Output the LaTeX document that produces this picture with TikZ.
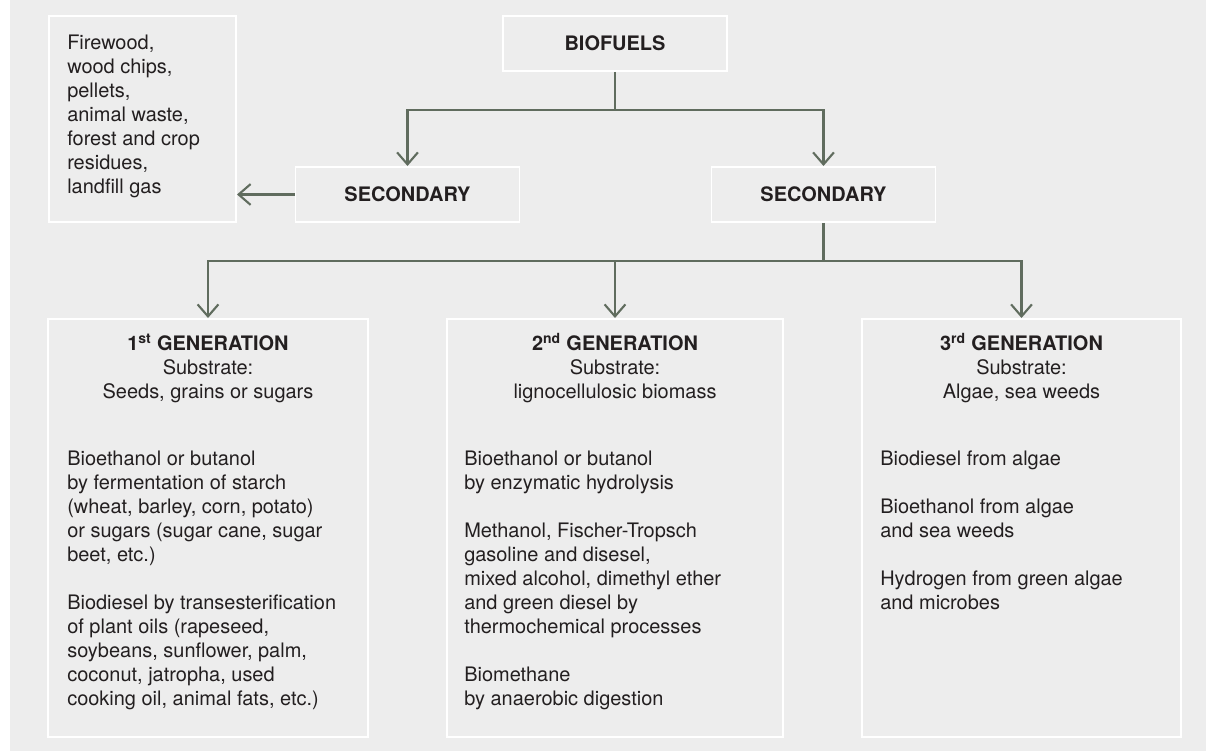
\documentclass[tikz,border=0pt]{standalone}
\usepackage{fontspec}
\setmainfont{TeX Gyre Heros}
\usepackage{xcolor}
\definecolor{bfgray}{RGB}{237,237,237}
\definecolor{bfline}{RGB}{96,108,94}
\definecolor{bftext}{RGB}{35,31,32}
\usetikzlibrary{arrows.meta,positioning}

\begin{document}
\begin{tikzpicture}[
  every node/.style={font=\fontsize{14.2}{17.07}\selectfont,text=bftext},
  levelbox/.style={draw=white,line width=1.4pt,minimum width=5.6cm,minimum height=1.375cm,
                   inner sep=0pt,font=\fontsize{14.2}{17.07}\selectfont\bfseries},
  genbox/.style={draw=white,line width=1.4pt,minimum height=10.45cm,inner sep=0pt},
  conn/.style={draw=bfline,line width=1.5pt},
  arr/.style={conn,-{Straight Barb[length=3mm,width=5.2mm]}},
  bodytext/.style={align=left,anchor=base west,inner sep=0pt},
  headtext/.style={align=center,anchor=base,inner sep=0pt},
]
  % Canvas
  \useasboundingbox (0,0) rectangle (30.15,18.775);
  \fill[bfgray] (0.25,0) rectangle (30.15,18.775);

  % Top level
  \node[levelbox] (biofuels) at (15.375,17.6875) {BIOFUELS};
  \node[levelbox] (sec1) at (10.1875,13.9125) {SECONDARY};
  \node[levelbox] (sec2) at (20.5875,13.9125) {SECONDARY};

  % Direct use box (text placed by its last baseline)
  \node[draw=white,line width=1.4pt,minimum width=4.675cm,minimum height=5.15cm] (direct)
    at (3.5625,15.8) {};
  \node[bodytext] (directtxt) at (1.675,13.9375)
    {Firewood,\\ wood chips,\\ pellets,\\ animal waste,\\ forest and crop\\ residues,\\ landfill gas};

  % Generation boxes
  \node[genbox,minimum width=8.0cm] (gen1) at (5.2,5.575) {};
  \node[genbox,minimum width=8.4cm] (gen2) at (15.375,5.575) {};
  \node[genbox,minimum width=7.975cm] (gen3) at (25.5375,5.575) {};

  \node[headtext] (head1) at (5.2,8.8)
    {\textbf{1\textsuperscript{st} GENERATION}\\ Substrate:\\ Seeds, grains or sugars};
  \node[headtext] (head2) at (15.375,8.8)
    {\textbf{2\textsuperscript{nd} GENERATION}\\ Substrate:\\ lignocellulosic biomass};
  \node[headtext] (head3) at (25.5375,8.8)
    {\textbf{3\textsuperscript{rd} GENERATION}\\ Substrate:\\ Algae, sea weeds};

  \node[bodytext] (body1) at (1.675,1.1375)
    {Bioethanol or butanol\\ by fermentation of starch\\ (wheat, barley, corn, potato)\\
     or sugars (sugar cane, sugar\\ beet, etc.)\\[17.07pt]
     Biodiesel by transesterification\\ of plant oils (rapeseed,\\ soybeans, sunflower, palm,\\
     coconut, jatropha, used\\ cooking oil, animal fats, etc.)};
  \node[bodytext] (body2) at (11.6,1.1375)
    {Bioethanol or butanol\\ by enzymatic hydrolysis\\[17.07pt]
     Methanol, Fischer-Tropsch\\ gasoline and disesel,\\ mixed alcohol, dimethyl ether\\
     and green diesel by\\ thermochemical processes\\[17.07pt]
     Biomethane\\ by anaerobic digestion};
  \node[bodytext] (body3) at (22.0,3.5375)
    {Biodiesel from algae\\[17.07pt]
     Bioethanol from algae\\ and sea weeds\\[17.07pt]
     Hydrogen from green algae\\ and microbes};

  % Connectors
  \coordinate (split1) at (15.375,16.025);
  \coordinate (split2) at (20.5875,12.25);
  \draw[conn] (biofuels.south) -- (split1);
  \draw[arr] (split1) -| (sec1.north);
  \draw[arr] (split1) -| (sec2.north);
  \draw[arr] (sec1.west) -- (sec1.west -| direct.east);
  \draw[conn] (sec2.south) -- (split2);
  \draw[arr] (split2) -| (gen1.north);
  \draw[arr] (split2) -| (gen2.north);
  \draw[arr] (split2) -| (gen3.north);
\end{tikzpicture}
\end{document}
